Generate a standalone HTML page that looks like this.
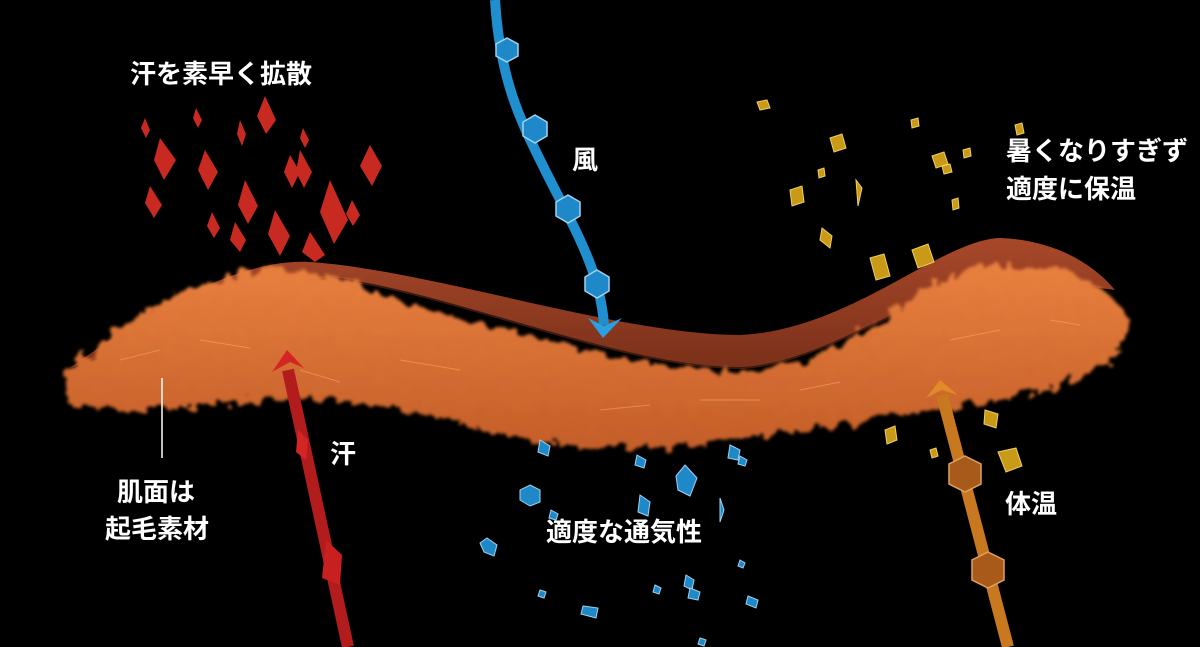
<!DOCTYPE html>
<html><head><meta charset="utf-8"><style>
html,body{margin:0;padding:0;background:#000;width:1200px;height:647px;overflow:hidden}
.t{position:absolute;color:#fff;font-family:"Liberation Sans","Noto Sans CJK JP",sans-serif;font-weight:bold;font-size:26px;line-height:38px;white-space:nowrap}
</style></head><body>
<svg width="1200" height="647" viewBox="0 0 1200 647" style="position:absolute;left:0;top:0">
<defs>
<filter id="f" x="-10%" y="-20%" width="120%" height="140%"><feTurbulence type="fractalNoise" baseFrequency="0.08" numOctaves="2" result="n"/><feDisplacementMap in="SourceGraphic" in2="n" scale="22"/><feGaussianBlur stdDeviation="1.5"/></filter>
<linearGradient id="br" x1="0" y1="0" x2="0" y2="1"><stop offset="0" stop-color="#a8482a"/><stop offset="1" stop-color="#7a3019"/></linearGradient>
<linearGradient id="og" x1="0" y1="0" x2="0" y2="1"><stop offset="0" stop-color="#e8803f"/><stop offset="1" stop-color="#c45e28"/></linearGradient>
</defs>
<path d="M70,368 C150,310 240,258 310,262 C430,270 620,335 740,335 C850,330 940,240 1000,238 C1050,240 1090,260 1115,290 L1000,275 C900,300 820,365 740,368 C620,368 450,292 330,278 C230,282 150,340 70,368 Z" fill="url(#br)"/>
<path d="M330,278 C450,292 620,368 740,368 C820,365 900,300 1000,275" stroke="#3a1a10" stroke-width="2" fill="none"/>
<g filter="url(#f)">
<path d="M62,378 C120,320 210,262 300,270 C330,274 360,286 400,300 C500,330 650,372 750,372 C850,362 900,300 960,272 C1040,252 1100,272 1130,320 C1130,360 1080,385 1000,400 C900,412 780,440 640,448 C520,452 440,410 340,400 C240,392 140,425 70,405 Z" fill="url(#og)"/>
</g>
<g stroke="#ffb070" stroke-width="1" opacity="0.5" fill="none">
<path d="M120,360 l40,-10 M200,340 l50,8 M400,360 l60,10 M600,410 l50,-5 M800,390 l40,-8 M950,340 l50,-10 M1050,320 l30,5 M300,370 l40,12 M700,400 l60,0"/>
</g>
<line x1="162" y1="378" x2="162" y2="458" stroke="#fff" stroke-width="1.5"/>
<path d="M288,370 L348,647" stroke="#b31c1c" stroke-width="12"/>
<path d="M272,372 L287,350 L304,368 L290,362 Z" fill="#d42525"/>
<polygon points="298,430 308,440 306,460 296,452" fill="#d42525"/>
<polygon points="326,540 342,555 340,585 322,578" fill="#c82020"/>
<path d="M495,0 C500,80 520,120 545,170 C575,230 600,270 604,325" stroke="#1f8fd0" stroke-width="10" fill="none"/>
<path d="M588,318 L603,338 L622,318 L604,326 Z" fill="#2aa0e0"/>
<g fill="#1e88c8" stroke="#9ed4f0" stroke-width="1.5">
<polygon points="507,38 518,44 518,56 507,62 496,56 496,44"/>
<polygon points="535,115 547,122 547,136 535,143 523,136 523,122"/>
<polygon points="568,195 580,202 580,216 568,223 556,216 556,202"/>
<polygon points="597,270 609,277 609,291 597,298 585,291 585,277"/>
</g>
<path d="M942,395 L1008,647" stroke="#c8781e" stroke-width="12"/>
<path d="M926,398 L940,380 L958,395 L942,390 Z" fill="#e08a2a"/>
<g fill="#a85a1a" stroke="#e0a060" stroke-width="1.5">
<polygon points="965,456 981,464 981,484 965,492 949,484 949,464"/>
<polygon points="988,552 1004,560 1004,580 988,588 972,580 972,560"/>
</g>
<g fill="#c82a22">
<polygon points="265,96 276,120 266,134 257,116"/><polygon points="160,138 176,160 164,180 154,160"/><polygon points="205,150 218,172 208,190 198,170"/><polygon points="150,186 162,205 154,218 145,203"/><polygon points="245,180 258,206 248,224 238,205"/><polygon points="290,155 300,172 292,188 284,172"/><polygon points="300,150 312,172 304,188 296,172"/><polygon points="370,145 382,166 372,186 360,166"/><polygon points="330,180 348,220 334,244 320,212"/><polygon points="275,210 290,236 280,256 268,234"/><polygon points="235,222 246,240 240,252 230,240"/><polygon points="212,212 220,228 214,238 207,226"/><polygon points="310,232 325,255 315,262 302,252"/><polygon points="352,200 360,215 353,226 346,214"/><polygon points="145,118 150,130 146,138 141,128"/><polygon points="196,108 202,120 198,128 193,118"/><polygon points="240,120 246,134 242,146 237,134"/><polygon points="303,128 309,140 305,148 300,138"/>
</g>
<g fill="#1e88c8" stroke="#9ed4f0" stroke-width="1">
<polygon points="530,485 540,490 540,502 530,506 520,500 520,490"/><polygon points="487,538 497,545 494,556 484,552 480,543"/><polygon points="685,465 697,478 690,496 678,490 676,476"/><polygon points="640,495 650,502 648,516 638,512"/><polygon points="730,445 740,450 738,460 728,458"/><polygon points="740,456 747,460 745,466 738,464"/><polygon points="637,455 646,460 644,468 635,465"/><polygon points="540,440 550,446 548,456 538,452"/><polygon points="686,575 694,580 692,590 684,586"/><polygon points="690,588 700,592 698,600 688,598"/><polygon points="655,585 661,588 659,594 653,592"/><polygon points="583,606 598,608 596,618 581,614"/><polygon points="748,596 758,600 756,608 746,604"/><polygon points="540,590 546,592 544,598 538,596"/><polygon points="551,510 558,514 556,520 549,518"/><polygon points="720,498 724,510 720,522"/><polygon points="700,638 706,640 704,646 698,644"/><polygon points="740,560 745,563 743,568 738,566"/>
</g>
<g fill="#c89a18" stroke="#f0d060" stroke-width="1">
<polygon points="757,102 767,100 770,108 760,110"/><polygon points="830,138 842,134 846,148 834,152"/><polygon points="790,190 802,186 804,202 792,206"/><polygon points="822,228 832,236 830,248 820,240"/><polygon points="932,156 944,152 948,164 936,168"/><polygon points="942,166 950,164 952,172 944,174"/><polygon points="870,258 884,254 890,276 876,280"/><polygon points="912,250 928,244 934,262 918,268"/><polygon points="985,410 998,414 996,428 984,424"/><polygon points="998,452 1016,448 1022,466 1006,472"/><polygon points="885,430 895,426 897,440 887,444"/><polygon points="911,120 918,118 919,126 912,128"/><polygon points="963,150 970,148 971,156 964,158"/><polygon points="856,180 862,188 858,206"/><polygon points="818,170 824,168 825,176 819,178"/><polygon points="952,200 958,198 959,208 953,210"/><polygon points="1015,125 1022,123 1024,133 1017,135"/><polygon points="930,450 936,448 938,456 932,458"/>
</g>
</svg>
<div class="t" style="left:130px;top:55px">汗を素早く拡散</div>
<div class="t" style="left:572px;top:141px">風</div>
<div class="t" style="left:1006px;top:132px">暑くなりすぎず<br>適度に保温</div>
<div class="t" style="left:330px;top:435px">汗</div>
<div class="t" style="left:117px;top:473px">肌面は</div>
<div class="t" style="left:105px;top:510px">起毛素材</div>
<div class="t" style="left:546px;top:513px">適度な通気性</div>
<div class="t" style="left:1005px;top:485px">体温</div>
</body></html>
